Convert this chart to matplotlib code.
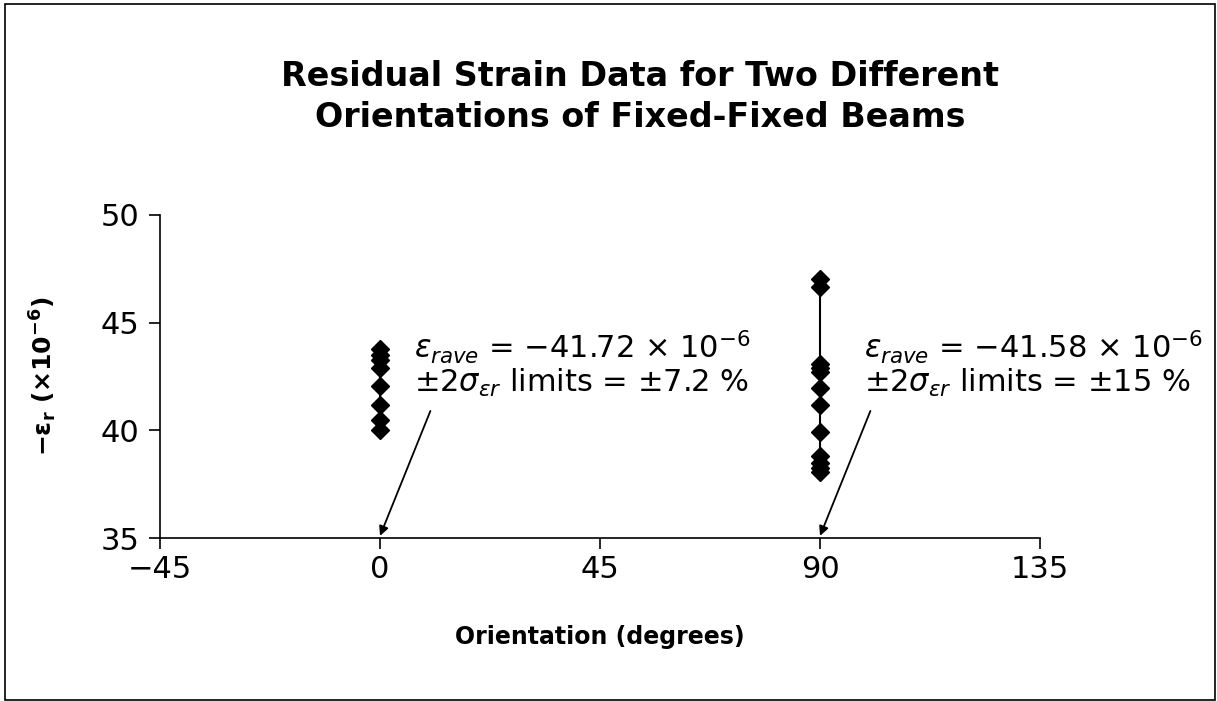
import matplotlib
matplotlib.use('Agg')
import matplotlib.pyplot as plt
from matplotlib.patches import Rectangle

plt.rcParams['font.family'] = 'DejaVu Sans'
plt.rcParams['mathtext.fontset'] = 'dejavusans'

# data (-eps_r, x1e-6)
orient_0 = [0, 0, 0, 0, 0, 0, 0, 0]
strain_0 = [43.8, 43.5, 43.25, 42.9, 42.05, 41.2, 40.5, 40.0]
orient_90 = [90, 90, 90, 90, 90, 90, 90, 90, 90, 90, 90, 90]
strain_90 = [47.05, 46.65, 43.1, 42.9, 42.7, 41.95, 41.2, 39.9, 38.8, 38.5, 38.25, 38.05]

xticks = [-45, 0, 45, 90, 135]
yticks = [35, 40, 45, 50]

notes = [
    (0, '$\\varepsilon_{rave}$ = \u221241.72 \u00d7 10$^{-6}$',
     '\u00b12$\\sigma_{\\varepsilon r}$ limits = \u00b17.2 %', 7),
    (90, '$\\varepsilon_{rave}$ = \u221241.58 \u00d7 10$^{-6}$',
     '\u00b12$\\sigma_{\\varepsilon r}$ limits = \u00b115 %', 99),
]

fig = plt.figure(figsize=(12.17, 7.01), dpi=100)
ax = fig.add_axes([0.1315, 0.2325, 0.7231, 0.4608])

ax.plot(orient_0, strain_0, color='black', lw=1.5, marker='D', ms=9.5)
ax.plot(orient_90, strain_90, color='black', lw=1.5, marker='D', ms=9.5)

ax.set_xlim(-45, 135)
ax.set_ylim(35, 50)
ax.set_xticks(xticks)
ax.set_xticklabels([str(t).replace('-', '\u2212') for t in xticks])
ax.set_yticks(yticks)
ax.tick_params(labelsize=22, length=8, width=1.2, direction='out')
ax.tick_params(axis='x', pad=4)
ax.tick_params(axis='y', pad=7)
for s in ['top', 'right']:
    ax.spines[s].set_visible(False)
for s in ['left', 'bottom']:
    ax.spines[s].set_linewidth(1.2)

for x0, l1, l2, tx in notes:
    ax.text(tx, 43.85, l1, fontsize=22, va='center', ha='left')
    ax.text(tx, 42.2, l2, fontsize=22, va='center', ha='left')
    ax.annotate('', xy=(x0, 35.1), xytext=(x0 + 10.3, 40.9),
                arrowprops=dict(arrowstyle='-|>', color='black', lw=1.3,
                                mutation_scale=14, shrinkA=0, shrinkB=0))

ax.set_xlabel('Orientation (degrees)', fontsize=17, fontweight='bold', labelpad=30)
ax.set_ylabel('\u2212\u03b5$_{\\mathbf{r}}$ (\u00d710$^{\\mathbf{-6}}$)',
              fontsize=18, fontweight='bold', labelpad=30)

fig.text(0.526, 0.862, 'Residual Strain Data for Two Different\nOrientations of Fixed-Fixed Beams',
         ha='center', va='center', fontsize=24, fontweight='bold', linespacing=1.3)

fig.patches.append(Rectangle((5 / 1217, 1 / 701), 1210 / 1217, 696 / 701,
                             transform=fig.transFigure, fill=False,
                             edgecolor='black', lw=1.2))

fig.savefig('out.png', dpi=100)
